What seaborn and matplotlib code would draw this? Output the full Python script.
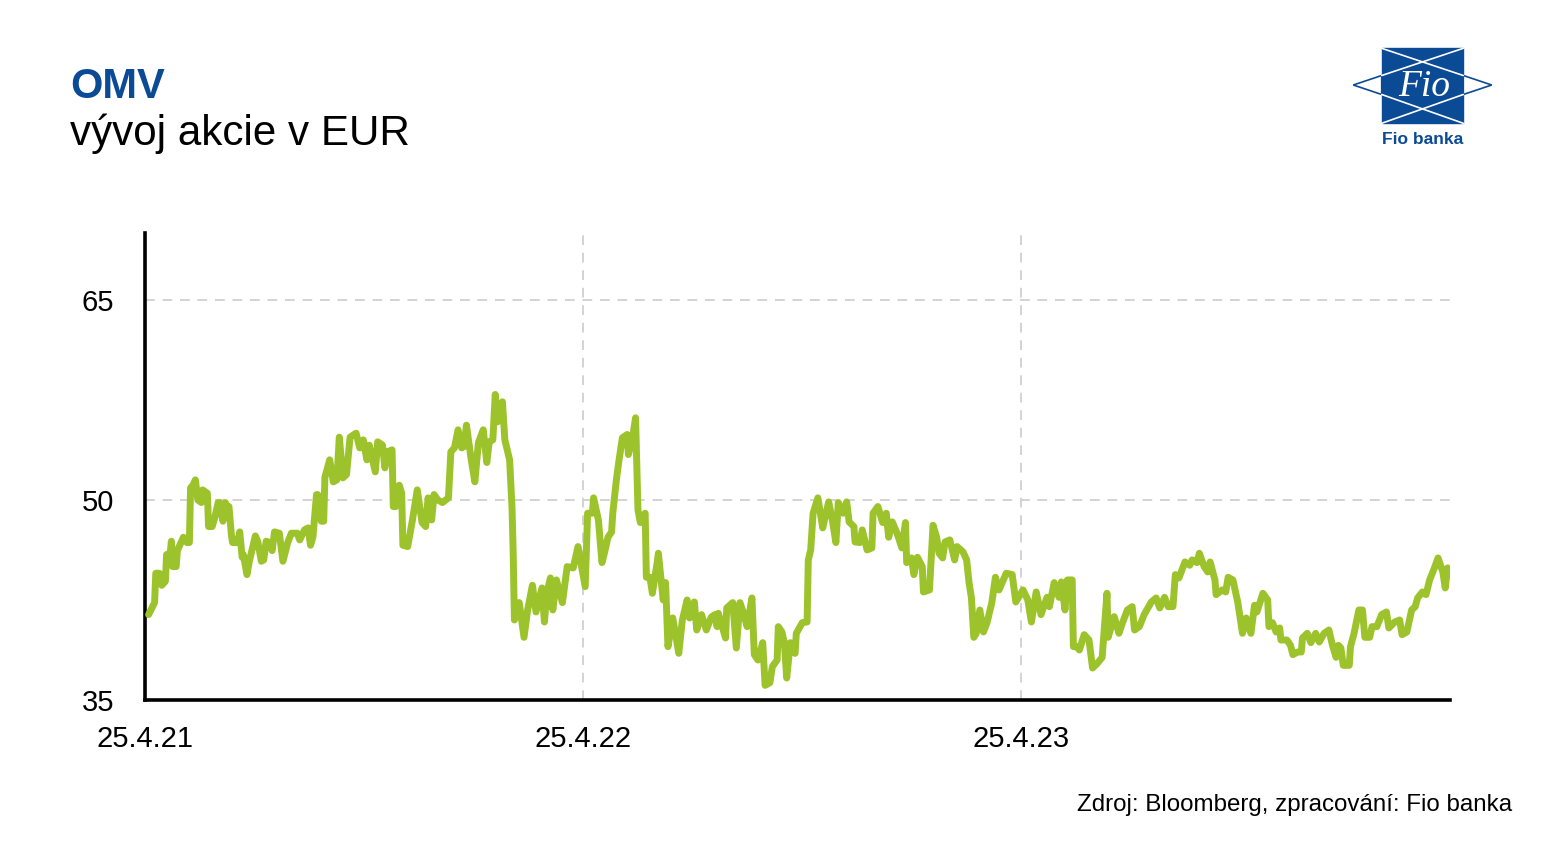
import pandas as pd
import matplotlib.pyplot as plt
import seaborn as sns
from matplotlib.patches import Polygon, Rectangle

# OMV share price in EUR (days after 25.4.2021)
days = [3, 8, 9, 12, 14, 17, 18, 21, 22, 23,
        26, 27, 31, 32, 35, 37, 38, 40, 42, 44,
        47, 48, 52, 53, 56, 58, 61, 62, 65, 67,
        68, 70, 72, 73, 77, 79, 81, 82, 85, 87,
        92, 94, 97, 99, 101, 104, 106, 108, 112, 115,
        119, 122, 127, 129, 133, 136, 138, 140, 143, 144,
        147, 149, 150, 154, 157, 160, 162, 165, 168, 171,
        176, 179, 182, 185, 187, 192, 194, 198, 200, 202,
        206, 207, 209, 212, 214, 215, 219, 223, 227, 231,
        234, 236, 239, 241, 244, 248, 253, 255, 258, 261,
        264, 266, 268, 272, 275, 278, 282, 285, 287, 290,
        292, 294, 298, 300, 304, 306, 307, 308, 312, 316,
        319, 323, 326, 331, 333, 335, 338, 340, 343, 348,
        352, 357, 361, 365, 367, 369, 373, 374, 378, 381,
        383, 386, 389, 390, 393, 395, 398, 402, 403, 406,
        409, 411, 413, 417, 418, 421, 423, 427, 428, 432,
        434, 436, 440, 445, 448, 452, 454, 458, 460, 464,
        468, 472, 475, 477, 478, 484, 485, 490, 493, 496,
        499, 502, 506, 508, 511, 515, 517, 521, 523, 527,
        528, 531, 533, 535, 538, 542, 543, 548, 552, 553,
        555, 557, 561, 565, 567, 570, 573, 576, 578, 582,
        585, 587, 591, 592, 596, 598, 602, 606, 607, 611,
        615, 618, 620, 623, 627, 631, 634, 635, 639, 641,
        644, 648, 649, 654, 657, 660, 662, 665, 667, 671,
        675, 677, 682, 685, 687, 689, 691, 693, 696, 699,
        702, 706, 709, 712, 718, 723, 726, 732, 736, 739,
        743, 747, 752, 754, 758, 762, 764, 767, 769, 773,
        774, 777, 779, 783, 787, 790, 794, 798, 802, 803,
        808, 812, 815, 819, 823, 825, 829, 833, 839, 843,
        846, 850, 853, 857, 859, 862, 867, 871, 873, 877,
        879, 883, 886, 888, 892, 893, 898, 901, 903, 907,
        911, 915, 918, 922, 925, 927, 932, 936, 937, 940,
        943, 946, 947, 952, 955, 957, 961, 964, 965, 969,
        972, 976, 979, 983, 987, 990, 993, 995, 997, 999,
        1004, 1005, 1008, 1012, 1015, 1017, 1021, 1023, 1027, 1031,
        1035, 1037, 1042, 1046, 1048, 1052, 1056, 1059, 1061, 1065,
        1068, 1071, 1075, 1078, 1082, 1084, 1086, 1088]

price = [41.4, 42.3, 44.5, 44.5, 43.6, 43.9, 45.9, 46.0, 46.9, 45.0,
         45.0, 46.2, 47.0, 47.2, 46.8, 46.8, 50.9, 51.1, 51.5, 50.0,
         49.8, 50.75, 50.5, 48.0, 48.0, 48.6, 49.8, 49.8, 48.4, 49.8,
         49.5, 49.5, 47.4, 46.8, 46.8, 47.6, 45.7, 45.9, 44.4, 45.4,
         47.3, 46.9, 45.4, 45.5, 46.9, 46.8, 46.2, 47.6, 47.5, 45.4,
         46.8, 47.5, 47.5, 47.0, 47.75, 47.9, 46.6, 47.2, 50.4, 50.4,
         48.4, 48.4, 51.7, 53.0, 51.35, 51.5, 54.7, 51.65, 51.9, 54.7,
         55.0, 53.9, 54.5, 53.0, 54.1, 52.1, 54.35, 54.1, 52.4, 53.6,
         53.75, 49.5, 49.5, 51.1, 50.5, 46.6, 46.5, 48.5, 50.75, 48.3,
         48.0, 50.15, 48.5, 50.4, 50.0, 49.8, 50.15, 53.6, 53.9, 55.25,
         53.9, 54.0, 55.6, 53.0, 51.35, 54.3, 55.25, 52.8, 54.35, 54.5,
         57.9, 55.85, 57.35, 54.5, 53.0, 49.4, 45.9, 41.0, 42.3, 39.7,
         41.75, 43.6, 41.6, 43.4, 40.85, 43.0, 44.15, 41.75, 44.0, 42.3,
         45.0, 44.9, 46.5, 44.5, 43.5, 49.0, 49.0, 50.15, 48.5, 45.3,
         46.0, 47.2, 47.6, 49.0, 51.5, 52.85, 54.65, 54.9, 53.4, 54.35,
         56.15, 49.25, 48.3, 49.0, 44.2, 44.2, 43.0, 45.3, 46.0, 42.5,
         43.8, 39.0, 41.15, 38.5, 41.0, 42.5, 41.15, 42.35, 40.25, 41.4,
         40.25, 41.2, 41.4, 40.5, 41.5, 39.65, 41.9, 42.3, 38.9, 42.3,
         41.5, 40.5, 42.65, 38.4, 38.0, 39.3, 36.1, 36.3, 37.5, 38.0,
         40.5, 40.1, 39.3, 36.65, 39.3, 38.5, 40.0, 40.8, 40.85, 45.5,
         46.25, 49.0, 50.15, 47.9, 48.7, 49.85, 48.5, 46.8, 49.8, 49.0,
         49.85, 48.35, 48.0, 46.85, 46.8, 47.75, 46.25, 46.4, 49.0, 49.5,
         48.3, 49.0, 47.2, 48.35, 47.5, 46.4, 48.3, 45.3, 45.65, 44.4,
         45.7, 45.0, 43.1, 43.25, 48.1, 47.2, 46.0, 45.65, 46.85, 47.0,
         45.5, 46.5, 46.1, 45.5, 43.8, 42.65, 39.7, 40.0, 41.75, 40.1,
         40.8, 42.3, 44.2, 43.25, 44.5, 44.4, 42.35, 43.25, 42.5, 40.85,
         43.1, 41.4, 42.7, 42.0, 43.8, 42.7, 43.85, 41.75, 44.0, 44.0,
         39.0, 39.0, 38.75, 39.9, 39.5, 37.4, 37.75, 38.2, 43.0, 39.7,
         41.25, 40.0, 40.8, 41.75, 42.0, 40.25, 40.5, 41.4, 42.35, 42.65,
         41.9, 42.7, 42.0, 42.0, 44.4, 44.15, 45.35, 45.1, 45.5, 45.3,
         46.0, 45.0, 44.6, 45.35, 44.0, 42.9, 43.25, 43.1, 44.2, 44.0,
         42.35, 40.0, 41.15, 40.0, 42.1, 41.6, 43.0, 42.5, 40.5, 40.8,
         40.1, 40.4, 39.5, 39.5, 39.1, 38.4, 38.6, 38.6, 39.65, 40.0,
         39.3, 40.0, 39.35, 40.0, 40.25, 39.1, 38.2, 39.1, 38.9, 37.6,
         37.6, 39.0, 40.0, 41.75, 41.75, 39.7, 39.7, 40.5, 40.5, 41.4,
         41.6, 40.4, 40.85, 41.0, 39.9, 40.1, 41.75, 42.0, 42.65, 43.1,
         42.9, 44.0, 44.9, 45.65, 44.6, 43.4, 44.9, 44.75]

start_date = "2021-04-25"
tick_dates = ["2021-04-25", "2022-04-25", "2023-04-25"]
tick_labels = ["25.4.21", "25.4.22", "25.4.23"]
y_ticks = [35, 50, 65]

GREEN = "#9dc32c"
BLUE = "#0b4a94"

sns.set_style("white")
plt.rcParams['font.family'] = ['Liberation Sans', 'DejaVu Sans']

df = pd.DataFrame({
    "date": pd.Timestamp(start_date) + pd.to_timedelta(days, unit="D"),
    "price": price,
})

fig = plt.figure(figsize=(15.49, 8.56), dpi=100)
ax = fig.add_axes([0.0936, 0.1822, 0.8425, 0.5456])

sns.lineplot(data=df, x="date", y="price", ax=ax, color=GREEN, lw=5,
             estimator=None, sort=False, zorder=3)

ax.set_xlim(pd.Timestamp(start_date), df["date"].iloc[-1])
ax.set_ylim(35, 70)
ax.set_xticks(pd.to_datetime(tick_dates))
ax.set_xticklabels(tick_labels)
ax.set_yticks(y_ticks)
ax.set_xlabel("")
ax.set_ylabel("")
ax.tick_params(axis="both", length=0, labelsize=21, colors="black")
ax.tick_params(axis="y", pad=22)
ax.tick_params(axis="x", pad=18)

# dashed grid lines (skip the ones lying on the spines)
for y in y_ticks[1:]:
    ax.axhline(y, color="#d3d3d3", ls=(0, (5, 4)), lw=1.4, zorder=1)
for d in tick_dates[1:]:
    ax.axvline(pd.Timestamp(d), color="#d3d3d3", ls=(0, (5, 4)), lw=1.4, zorder=1)

sns.despine(ax=ax)
ax.spines["left"].set_linewidth(2.6)
ax.spines["bottom"].set_linewidth(2.6)
ax.spines["left"].set_color("black")
ax.spines["bottom"].set_color("black")

# titles and source
fig.text(0.0452, 0.8855, "OMV", fontsize=30, fontweight="bold", color=BLUE, va="baseline")
fig.text(0.0452, 0.8306, "vývoj akcie v EUR", fontsize=30.3, color="black", va="baseline")
fig.text(0.9761, 0.0526, "Zdroj: Bloomberg, zpracování: Fio banka", fontsize=17.4,
         color="black", ha="right", va="baseline")

# simplified Fio banka logo
lg = fig.add_axes([1340 / 1549, 1 - 160 / 856, 170 / 1549, 120 / 856])
lg.set_xlim(0, 170)
lg.set_ylim(120, 0)
lg.axis("off")
lg.add_patch(Rectangle((41.7, 8.3), 81.6, 75, color=BLUE, zorder=1))
lg.add_patch(Polygon([(13.3, 45), (41.7, 35.5), (41.7, 54.5)], closed=True,
                     facecolor="white", edgecolor=BLUE, lw=1.2, zorder=2))
lg.add_patch(Polygon([(151.7, 45), (123.3, 35.5), (123.3, 54.5)], closed=True,
                     facecolor="white", edgecolor=BLUE, lw=1.2, zorder=2))
lg.plot([41.7, 123.3], [35.5, 8.3], color="white", lw=1.2, zorder=3)
lg.plot([41.7, 123.3], [54.5, 83.3], color="white", lw=1.2, zorder=3)
lg.plot([41.7, 123.3], [8.3, 35.5], color="white", lw=1.2, zorder=3)
lg.plot([41.7, 123.3], [83.3, 54.5], color="white", lw=1.2, zorder=3)
lg.text(84, 47, "Fio", fontsize=27, color="white", style="italic",
        family=["Liberation Serif", "DejaVu Serif"], ha="center", va="center", zorder=4)
lg.text(82.7, 99, "Fio banka", fontsize=12.5, color=BLUE, fontweight="bold",
        ha="center", va="center")

fig.savefig("out.png", dpi=100)
